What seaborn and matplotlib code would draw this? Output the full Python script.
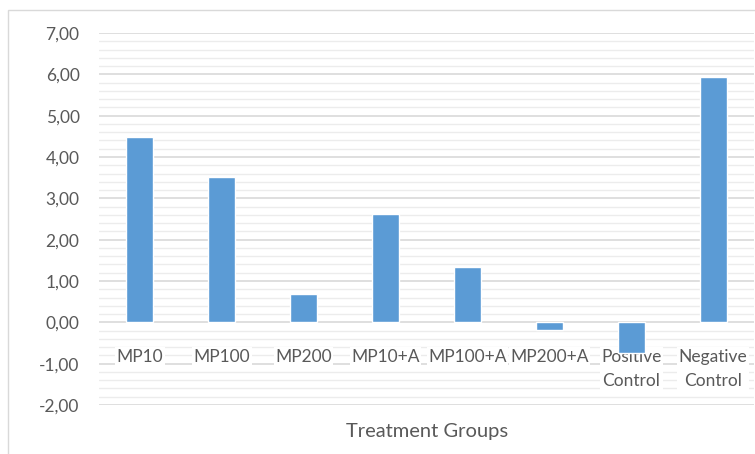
import numpy as np
import pandas as pd
import seaborn as sns
import matplotlib.pyplot as plt
from matplotlib.ticker import MultipleLocator, FuncFormatter
from matplotlib.patches import Rectangle

# Values
groups = ["MP10", "MP100", "MP200", "MP10+A", "MP100+A", "MP200+A",
          "Positive\nControl", "Negative\nControl"]
values = [4.48, 3.52, 0.68, 2.62, 1.34, -0.18, -0.73, 5.94]

y_ticks_major = 1.0
y_ticks_minor = 0.2

sns.set_style("white")
plt.rcParams['font.family'] = ['Lato', 'DejaVu Sans']

text_color = "#595959"
bar_color = "#5B9BD5"

df = pd.DataFrame({"group": groups, "value": values})

fig = plt.figure(figsize=(7.55, 4.54), dpi=100)
ax = fig.add_axes([99 / 755, 1 - 405 / 454, (754 - 99) / 755, (405 - 33) / 454])

sns.barplot(data=df, x="group", y="value", color=bar_color, width=0.33,
            saturation=1, ax=ax, zorder=3)

ax.set_ylim(-2, 7)
ax.set_xlim(-0.5, len(groups) - 0.5)
ax.yaxis.set_major_locator(MultipleLocator(y_ticks_major))
ax.yaxis.set_minor_locator(MultipleLocator(y_ticks_minor))
ax.yaxis.set_major_formatter(FuncFormatter(lambda v, p: f"{v:.2f}".replace(".", ",")))

# Excel-like gridlines
ax.grid(axis="y", which="major", color="#d9d9d9", linewidth=1.2)
ax.grid(axis="y", which="minor", color="#ececec", linewidth=1.0)
# grid (y axis) lowest, category labels above it, bars on top
ax.yaxis.set_zorder(0.5)
ax.xaxis.set_zorder(1)

for s in ax.spines.values():
    s.set_visible(False)

# category labels sit just under the zero line
ax.spines["bottom"].set_position(("data", 0))
ax.tick_params(axis="x", length=0, pad=19, labelsize=12.5, labelcolor=text_color)
ax.tick_params(axis="y", which="both", length=0, pad=14, labelsize=12.5, labelcolor=text_color)
for lbl in ax.get_xticklabels():
    lbl.set_linespacing(1.6)
    lbl.set_bbox(dict(facecolor="white", edgecolor="none", pad=1.0))

ax.set_xlabel("")
ax.set_ylabel("")
fig.text(427 / 755, 1 - 432 / 454, "Treatment Groups", ha="center", va="center",
         fontsize=14.5, color=text_color)

# chart area frame
frame = Rectangle((8 / 755, -0.05), 1.2, 1 - 10 / 454 + 0.05, transform=fig.transFigure,
                  fill=False, edgecolor="#d9d9d9", linewidth=1.0, clip_on=False)
fig.patches.append(frame)

fig.savefig("out.png", dpi=100)
